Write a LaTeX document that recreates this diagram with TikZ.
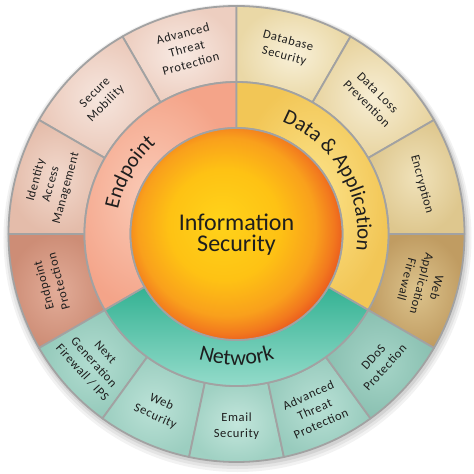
\documentclass[tikz,border=0pt]{standalone}
\usepackage{fontspec}
\setmainfont{Carlito}
\newfontfamily\wheelfont[LetterSpace=5]{Carlito}
\usetikzlibrary{decorations.text}

\definecolor{rimgray}{HTML}{A2A2A2}
\definecolor{inkdark}{HTML}{1E1E1E}
\definecolor{coreyellow}{HTML}{FFD31A}
\definecolor{coreamber}{HTML}{FEC214}
\definecolor{coreorange}{HTML}{F9A01C}
\definecolor{coreflame}{HTML}{F2781E}
\definecolor{corered}{HTML}{E5441E}

\pgfdeclareradialshading{coreglow}{\pgfpoint{-4bp}{3bp}}{color(0bp)=(coreyellow); color(13bp)=(coreamber); color(21bp)=(coreorange); color(25bp)=(coreflame); color(29bp)=(corered); color(50bp)=(corered)}

% annular wedge: start angle, end angle, inner radius, outer radius
\newcommand{\ringpart}[4]{(#1:#3) arc[start angle=#1, end angle=#2, radius=#3] -- (#2:#4) arc[start angle=#2, end angle=#1, radius=#4] -- cycle}

\begin{document}
\begin{tikzpicture}[x=1pt, y=1pt,
    wedge/.style={draw=rimgray, line width=1.8pt, line join=round},
    segtext/.style={font=\wheelfont\fontsize{12.5}{15.5}\selectfont, align=center, text=inkdark}]
    \useasboundingbox (-236.5,-240) rectangle (237.5,234);

    % Shadow
    \fill[black, opacity=0.05] (1,-4) circle (234pt);
    \fill[black, opacity=0.06] (1,-3) circle (232pt);
    \fill[black, opacity=0.08] (1,-2) circle (230pt);

    % Endpoint
    \shadedraw[wedge, inner color={rgb,255:red,248;green,234;blue,227}, outer color={rgb,255:red,237;green,206;blue,192}] \ringpart{90}{120}{152pt}{228pt};
    \shadedraw[wedge, inner color={rgb,255:red,246;green,230;blue,222}, outer color={rgb,255:red,235;green,201;blue,186}] \ringpart{120}{150}{152pt}{228pt};
    \shadedraw[wedge, inner color={rgb,255:red,242;green,217;blue,205}, outer color={rgb,255:red,228;green,188;blue,170}] \ringpart{150}{180}{152pt}{228pt};
    \shadedraw[wedge, inner color={rgb,255:red,226;green,172;blue,152}, outer color={rgb,255:red,205;green,141;blue,118}] \ringpart{180}{210}{152pt}{228pt};
    \shadedraw[wedge, inner color={rgb,255:red,250;green,203;blue,183}, outer color={rgb,255:red,244;green,164;blue,137}] \ringpart{90}{210}{106pt}{152pt};

    % Data & Application
    \shadedraw[wedge, inner color={rgb,255:red,248;green,240;blue,216}, outer color={rgb,255:red,234;green,216;blue,166}] \ringpart{60}{90}{152pt}{228pt};
    \shadedraw[wedge, inner color={rgb,255:red,247;green,238;blue,212}, outer color={rgb,255:red,232;green,212;blue,160}] \ringpart{30}{60}{152pt}{228pt};
    \shadedraw[wedge, inner color={rgb,255:red,240;green,226;blue,186}, outer color={rgb,255:red,222;green,199;blue,142}] \ringpart{0}{30}{152pt}{228pt};
    \shadedraw[wedge, inner color={rgb,255:red,220;green,195;blue,140}, outer color={rgb,255:red,192;green,156;blue,98}] \ringpart{-30}{0}{152pt}{228pt};
    \shadedraw[wedge, inner color={rgb,255:red,252;green,228;blue,140}, outer color={rgb,255:red,242;green,198;blue,86}] \ringpart{-30}{90}{106pt}{152pt};

    % Network
    \shadedraw[wedge, inner color={rgb,255:red,178;green,221;blue,209}, outer color={rgb,255:red,148;green,201;blue,186}] \ringpart{210}{234}{152pt}{228pt};
    \shadedraw[wedge, inner color={rgb,255:red,187;green,226;blue,215}, outer color={rgb,255:red,156;green,206;blue,192}] \ringpart{234}{258}{152pt}{228pt};
    \shadedraw[wedge, inner color={rgb,255:red,195;green,230;blue,220}, outer color={rgb,255:red,160;green,209;blue,195}] \ringpart{258}{282}{152pt}{228pt};
    \shadedraw[wedge, inner color={rgb,255:red,184;green,224;blue,213}, outer color={rgb,255:red,152;green,203;blue,189}] \ringpart{282}{306}{152pt}{228pt};
    \shadedraw[wedge, inner color={rgb,255:red,166;green,213;blue,200}, outer color={rgb,255:red,138;green,192;blue,177}] \ringpart{306}{330}{152pt}{228pt};
    \shadedraw[wedge, top color={rgb,255:red,52;green,178;blue,147}, bottom color={rgb,255:red,168;green,228;blue,214}] \ringpart{210}{330}{106pt}{152pt};

    % Core
    \shade[shading=coreglow] (0,0) circle (106pt);
    \draw[rimgray, line width=1.8pt] (0,0) circle (106pt);
    \node[font=\fontsize{24}{21}\selectfont, align=center, text=inkdark] (infosec) at (0,-1) {Information\\Security};

    % Ring labels
    \begingroup
    \fontsize{21}{21}\selectfont
    \path[decorate, decoration={text along path, text align=center, text color=inkdark, text={Endpoint}}] (210:121pt) arc[start angle=210, end angle=90, radius=121pt];
    \path[decorate, decoration={text along path, text align=center, text color=inkdark, text={Data {\&} Application}}] (90:121pt) arc[start angle=90, end angle=-30, radius=121pt];
    \fontsize{22}{22}\selectfont
    \path[decorate, decoration={text along path, text align=center, text color=inkdark, text={Network}}] (210:131pt) arc[start angle=210, end angle=330, radius=131pt];
    \endgroup

    % Endpoint segments
    \node[segtext, rotate=15] (epthreat) at (105:192pt) {Advanced\\Threat\\Protection};
    \node[segtext, rotate=45] (epmobile) at (135:192pt) {Secure\\Mobility};
    \node[segtext, rotate=75] (epidentity) at (165:192pt) {Identity\\Access\\Management};
    \node[segtext, rotate=105] (epprotect) at (195:192pt) {Endpoint\\Protection};

    % Data segments
    \node[segtext, rotate=-15] (dadb) at (75:192pt) {Database\\Security};
    \node[segtext, rotate=-45] (dadlp) at (45:192pt) {Data Loss\\Prevention};
    \node[segtext, rotate=-75] (dacrypt) at (15:192pt) {Encryption};
    \node[segtext, rotate=-105] (dawaf) at (-15:192pt) {Web\\Application\\Firewall};

    % Network segments
    \node[segtext, rotate=-48] (nwfw) at (222:192pt) {Next\\Generation\\Firewall / IPS};
    \node[segtext, rotate=-24] (nwweb) at (246:192pt) {Web\\Security};
    \node[segtext, rotate=0] (nwmail) at (270:192pt) {Email\\Security};
    \node[segtext, rotate=24] (nwthreat) at (294:192pt) {Advanced\\Threat\\Protection};
    \node[segtext, rotate=48] (nwddos) at (318:192pt) {DDoS\\Protection};
\end{tikzpicture}
\end{document}
